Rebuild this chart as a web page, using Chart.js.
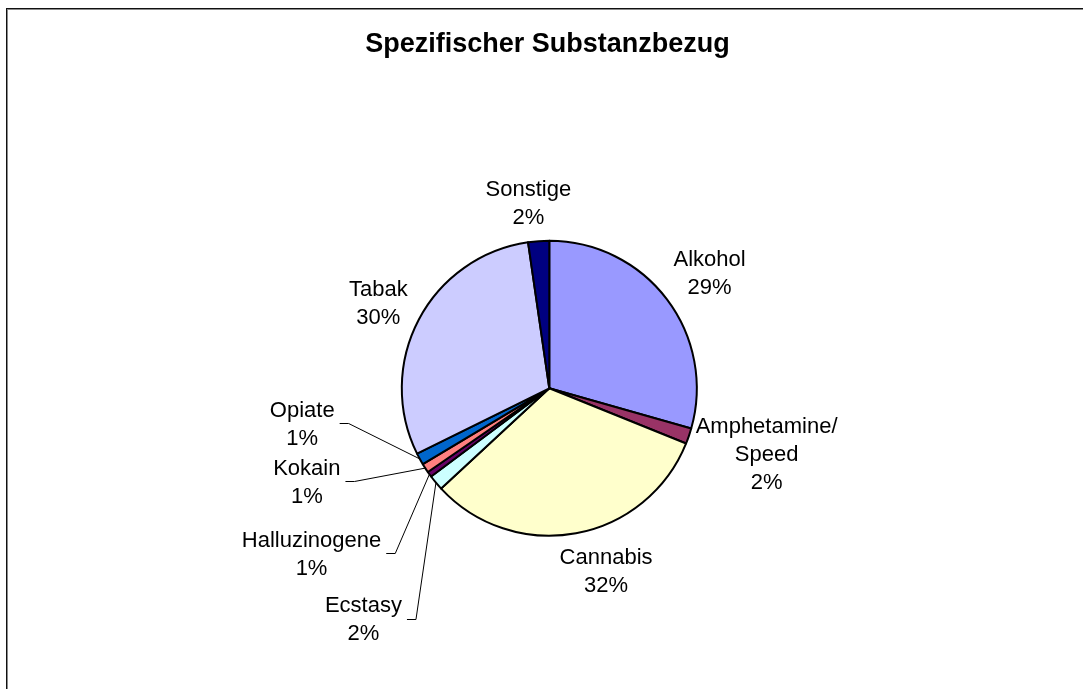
<!DOCTYPE html>
<html>
<head>
<meta charset="utf-8">
<script src="https://cdn.jsdelivr.net/npm/chart.js@4"></script>
<style>
  html, body { margin: 0; padding: 0; background: #fff; }
  #wrap { position: relative; width: 1083px; height: 689px; overflow: hidden; }
  #frame { position: absolute; left: 6px; top: 8px; width: 2000px; height: 2000px;
           border-left: 1px solid #111; border-top: 1px solid #111;
           box-shadow: inset 1px 1px 0 #8a8a8a; }
  canvas { position: absolute; left: 0; top: 0; }
</style>
</head>
<body>
<div id="wrap">
  <div id="frame"></div>
  <canvas id="c" width="1083" height="689"></canvas>
</div>
<script>
// ---- data ----
const chartTitle = 'Spezifischer Substanzbezug';
const categories = ['Alkohol', ['Amphetamine/', 'Speed'], 'Cannabis', 'Ecstasy', 'Halluzinogene', 'Kokain', 'Opiate', 'Tabak', 'Sonstige'];
const shares = [29.4, 1.7, 32.0, 1.7, 0.6, 1.0, 1.3, 30.0, 2.3];

// ---- styles / layout (separate from data) ----
const sliceColors = ['#9999FF', '#993366', '#FFFFCC', '#CCFFFF', '#660066', '#FF8080', '#0066CC', '#CCCCFF', '#000080'];
// label block centres, in units of the pie radius relative to the pie centre
const labelPos = [
  [1.087, -0.791], [1.473, 0.440], [0.385, 1.233], [-1.260, 1.561], [-1.612, 1.119],
  [-1.644, 0.627], [-1.675, 0.234], [-1.159, -0.582], [-0.142, -1.264]
];
const hasLeader = [false, false, false, true, true, true, true, false, false];

const FONT = '"Liberation Sans", Arial, sans-serif';
const LABEL_SIZE = 22, LINE_H = 28, CAP_H = 15.75;

const labelPlugin = {
  id: 'pieLabels',
  afterDatasetsDraw(chart) {
    const ctx = chart.ctx;
    const meta = chart.getDatasetMeta(0);
    const total = shares.reduce((a, b) => a + b, 0);
    ctx.save();
    ctx.fillStyle = '#000';
    ctx.strokeStyle = '#000';
    ctx.lineWidth = 1;
    ctx.font = LABEL_SIZE + 'px ' + FONT;
    ctx.textAlign = 'center';
    ctx.textBaseline = 'alphabetic';
    meta.data.forEach((arc, i) => {
      const p = arc.getProps(['x', 'y', 'startAngle', 'endAngle', 'outerRadius'], true);
      const R = p.outerRadius;
      const cx = p.x + labelPos[i][0] * R;
      const cy = p.y + labelPos[i][1] * R;
      const name = Array.isArray(categories[i]) ? categories[i] : [categories[i]];
      const lines = name.concat([Math.round(shares[i] / total * 100) + '%']);
      const blockH = CAP_H + (lines.length - 1) * LINE_H;
      let y = cy - blockH / 2 + CAP_H;
      let maxW = 0;
      lines.forEach(t => {
        ctx.fillText(t, cx, y);
        maxW = Math.max(maxW, ctx.measureText(t).width);
        y += LINE_H;
      });
      if (hasLeader[i]) {
        const mid = (p.startAngle + p.endAngle) / 2;
        const ex = p.x + Math.cos(mid) * R;
        const ey = p.y + Math.sin(mid) * R;
        const sx = cx + maxW / 2 + 5;
        ctx.beginPath();
        ctx.moveTo(sx, Math.round(cy) + 0.5);
        ctx.lineTo(sx + 9, Math.round(cy) + 0.5);
        ctx.lineTo(ex, ey);
        ctx.stroke();
      }
    });
    // title
    ctx.font = 'bold 27px ' + FONT;
    ctx.textAlign = 'center';
    ctx.fillText(chartTitle, 547.5, 51.7);
    ctx.restore();
  }
};

new Chart(document.getElementById('c'), {
  type: 'pie',
  data: {
    labels: categories,
    datasets: [{
      data: shares,
      backgroundColor: sliceColors,
      borderColor: '#000',
      borderWidth: 2,
      borderJoinStyle: 'round'
    }]
  },
  options: {
    responsive: false,
    animation: false,
    layout: { padding: { top: 239.8, bottom: 152.2, left: 400.8, right: 385.2 } },
    plugins: {
      legend: { display: false },
      tooltip: { enabled: false },
      title: { display: false }
    }
  },
  plugins: [labelPlugin]
});
</script>
</body>
</html>
